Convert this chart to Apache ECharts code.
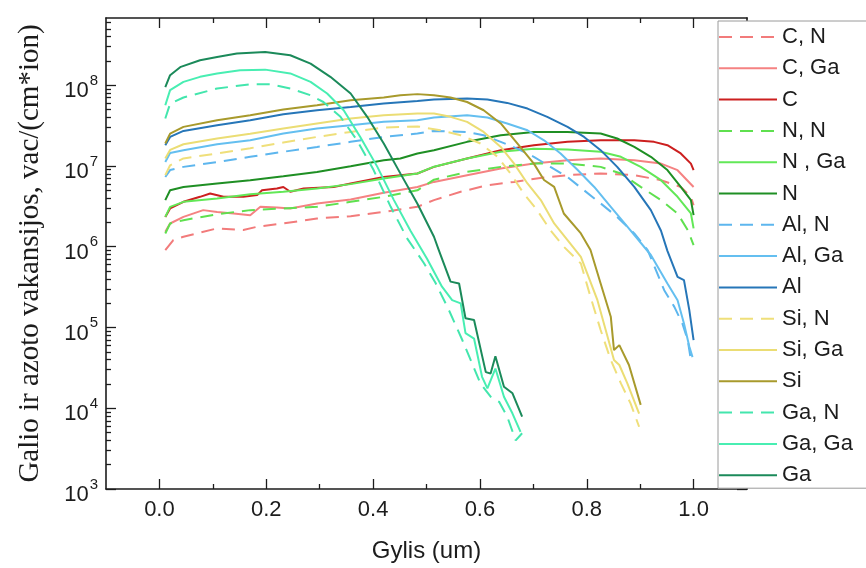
<!DOCTYPE html>
<html>
<head>
<meta charset="utf-8">
<script src="https://cdn.jsdelivr.net/npm/echarts@6/dist/echarts.min.js"></script>
<style>
  html, body { margin: 0; padding: 0; background: #fff; }
  #chart { width: 866px; height: 568px; }
</style>
</head>
<body>
<div id="chart"></div>
<script>
// Vacancy depth profiles: [depth (um), vacancies per cm*ion]
const cN = [[0.011,9.1e5],[0.026,1.21e6],[0.045,1.33e6],[0.108,1.69e6],[0.157,1.61e6],[0.183,1.77e6],[0.232,1.94e6],[0.295,2.24e6],[0.358,2.39e6],[0.42,2.7e6],[0.483,3.12e6],[0.514,3.78e6],[0.564,4.79e6],[0.614,5.78e6],[0.664,6.35e6],[0.72,7.2e6],[0.764,7.7e6],[0.826,8.07e6],[0.889,7.7e6],[0.939,6.67e6],[0.976,5.5e6],[0.995,4.15e6],[1.0,3.27e6]];
const cGa = [[0.011,1.53e6],[0.02,1.94e6],[0.045,2.34e6],[0.082,2.84e6],[0.108,2.7e6],[0.139,2.58e6],[0.17,2.46e6],[0.189,3.12e6],[0.22,3.06e6],[0.245,2.98e6],[0.295,3.44e6],[0.358,3.85e6],[0.42,4.65e6],[0.483,5.5e6],[0.514,6.35e6],[0.576,7.7e6],[0.639,9.3e6],[0.701,1.07e7],[0.764,1.18e7],[0.826,1.24e7],[0.889,1.18e7],[0.939,1.07e7],[0.97,8.87e6],[1.0,5.5e6]];
const cAll = [[0.011,2.34e6],[0.02,2.98e6],[0.045,3.6e6],[0.076,4.15e6],[0.095,4.56e6],[0.12,4.15e6],[0.157,4.15e6],[0.183,4.36e6],[0.192,5.0e6],[0.22,5.26e6],[0.232,5.5e6],[0.245,4.79e6],[0.27,5.26e6],[0.326,5.5e6],[0.358,6.07e6],[0.42,7.33e6],[0.483,8.07e6],[0.514,9.75e6],[0.576,1.24e7],[0.639,1.57e7],[0.701,1.81e7],[0.764,1.99e7],[0.826,2.08e7],[0.889,2.08e7],[0.926,1.99e7],[0.951,1.81e7],[0.976,1.43e7],[0.995,1.07e7],[1.0,8.87e6]];
const nN = [[0.011,1.46e6],[0.02,1.94e6],[0.045,2.13e6],[0.108,2.53e6],[0.17,2.84e6],[0.232,2.98e6],[0.295,3.12e6],[0.358,3.6e6],[0.42,4.15e6],[0.483,5.0e6],[0.514,6.76e6],[0.576,8.45e6],[0.639,9.75e6],[0.701,1.07e7],[0.764,1.07e7],[0.826,9.75e6],[0.864,8.07e6],[0.901,5.5e6],[0.939,3.78e6],[0.97,2.58e6],[0.989,1.61e6],[1.0,1.05e6]];
const nGa = [[0.011,2.34e6],[0.02,3.12e6],[0.045,3.6e6],[0.108,3.96e6],[0.17,4.48e6],[0.232,4.79e6],[0.295,5.26e6],[0.358,5.96e6],[0.42,7.0e6],[0.483,8.07e6],[0.514,9.8e6],[0.576,1.24e7],[0.639,1.5e7],[0.701,1.64e7],[0.764,1.6e7],[0.826,1.5e7],[0.864,1.3e7],[0.901,9.75e6],[0.939,6.67e6],[0.97,4.15e6],[0.995,2.58e6],[1.0,1.69e6]];
const nAll = [[0.011,3.78e6],[0.02,5.0e6],[0.045,5.5e6],[0.108,6.07e6],[0.17,6.67e6],[0.232,7.48e6],[0.295,8.45e6],[0.358,9.9e6],[0.42,1.18e7],[0.451,1.24e7],[0.483,1.43e7],[0.514,1.57e7],[0.576,1.99e7],[0.639,2.4e7],[0.701,2.64e7],[0.764,2.64e7],[0.826,2.52e7],[0.857,2.19e7],[0.889,1.72e7],[0.92,1.3e7],[0.951,8.9e6],[0.976,5.5e6],[0.995,3.78e6],[1.0,2.46e6]];
const alN = [[0.011,7.3e6],[0.02,8.9e6],[0.045,9.75e6],[0.108,1.12e7],[0.17,1.3e7],[0.232,1.5e7],[0.295,1.72e7],[0.358,1.99e7],[0.42,2.29e7],[0.483,2.52e7],[0.514,2.72e7],[0.576,2.64e7],[0.607,2.4e7],[0.639,1.99e7],[0.67,1.64e7],[0.701,1.3e7],[0.732,9.75e6],[0.764,7.3e6],[0.795,5.0e6],[0.826,3.44e6],[0.857,2.34e6],[0.889,1.46e6],[0.914,9.1e5],[0.945,2.9e5],[0.964,1.8e5],[0.979,1.12e5],[0.989,7e4],[0.995,3.95e4]];
const alGa = [[0.011,1.12e7],[0.02,1.45e7],[0.045,1.57e7],[0.108,1.86e7],[0.17,2.08e7],[0.232,2.52e7],[0.295,2.91e7],[0.358,3.2e7],[0.42,3.52e7],[0.483,3.69e7],[0.514,3.98e7],[0.576,4.26e7],[0.614,3.98e7],[0.651,3.36e7],[0.689,2.77e7],[0.72,2.08e7],[0.751,1.43e7],[0.783,8.9e6],[0.814,5.5e6],[0.845,3.12e6],[0.876,1.77e6],[0.92,7.9e5],[0.951,3.5e5],[0.97,2.18e5],[0.982,1.12e5],[0.992,5.8e4],[0.998,4.3e4]];
const alAll = [[0.011,1.81e7],[0.02,2.29e7],[0.045,2.72e7],[0.108,3.2e7],[0.17,3.69e7],[0.232,4.38e7],[0.295,4.9e7],[0.358,5.38e7],[0.42,5.93e7],[0.483,6.4e7],[0.514,6.65e7],[0.576,6.84e7],[0.614,6.65e7],[0.651,6.04e7],[0.689,5.14e7],[0.726,4.06e7],[0.764,3.05e7],[0.795,2.29e7],[0.826,1.57e7],[0.857,9.75e6],[0.889,5.5e6],[0.92,2.84e6],[0.939,1.58e6],[0.951,8.9e5],[0.97,4.24e5],[0.982,3.86e5],[0.992,1.64e5],[1.0,6.98e4]];
const siN = [[0.011,7.7e6],[0.02,1.02e7],[0.045,1.24e7],[0.108,1.43e7],[0.17,1.66e7],[0.232,1.95e7],[0.295,2.29e7],[0.358,2.64e7],[0.42,2.99e7],[0.483,3.09e7],[0.526,2.77e7],[0.564,2.4e7],[0.601,1.9e7],[0.633,1.3e7],[0.657,8.1e6],[0.682,4.57e6],[0.707,2.84e6],[0.732,1.6e6],[0.757,1.0e6],[0.789,6.2e5],[0.807,2.4e5],[0.826,9.3e4],[0.845,3.95e4],[0.864,2.03e4],[0.882,1.15e4],[0.898,5.9e3]];
const siGa = [[0.011,1.24e7],[0.02,1.58e7],[0.045,1.86e7],[0.108,2.19e7],[0.17,2.51e7],[0.232,2.91e7],[0.295,3.36e7],[0.358,3.87e7],[0.42,4.26e7],[0.483,4.47e7],[0.514,4.47e7],[0.545,4.06e7],[0.576,3.52e7],[0.607,2.64e7],[0.639,1.72e7],[0.664,1.07e7],[0.689,6.07e6],[0.714,3.78e6],[0.739,1.94e6],[0.764,1.21e6],[0.789,7.5e5],[0.82,2.18e5],[0.839,7.7e4],[0.851,3.95e4],[0.861,3.43e4],[0.876,2.03e4],[0.898,8.6e3]];
const siAll = [[0.011,1.9e7],[0.02,2.52e7],[0.045,3.05e7],[0.108,3.69e7],[0.17,4.26e7],[0.232,5.0e7],[0.295,5.65e7],[0.358,6.5e7],[0.42,7.05e7],[0.451,7.5e7],[0.483,7.76e7],[0.514,7.5e7],[0.545,7.05e7],[0.576,6.2e7],[0.607,4.9e7],[0.639,3.36e7],[0.67,1.9e7],[0.701,1.07e7],[0.72,6.7e6],[0.739,5.5e6],[0.757,2.58e6],[0.789,1.46e6],[0.807,9.1e5],[0.826,3.5e5],[0.845,1.36e5],[0.851,5.25e4],[0.861,6.05e4],[0.879,3.43e4],[0.901,1.1e4]];
const gaN = [[0.011,3.87e7],[0.02,5.9e7],[0.045,7.05e7],[0.108,9.1e7],[0.17,1.03e8],[0.208,1.03e8],[0.245,9.1e7],[0.283,7.5e7],[0.307,6.2e7],[0.339,4.06e7],[0.37,2.08e7],[0.401,8.9e6],[0.433,3.12e6],[0.464,1.26e6],[0.495,6.3e5],[0.517,3.55e5],[0.542,1.64e5],[0.567,7e4],[0.601,2.03e4],[0.62,1.39e4],[0.636,1.2e4],[0.651,7.9e3],[0.667,4e3],[0.679,4.9e3]];
const gaGa = [[0.011,5.65e7],[0.02,8.7e7],[0.045,1.1e8],[0.076,1.27e8],[0.108,1.4e8],[0.151,1.53e8],[0.198,1.56e8],[0.245,1.4e8],[0.283,1.1e8],[0.314,7.9e7],[0.345,4.9e7],[0.376,2.29e7],[0.408,9.75e6],[0.439,3.78e6],[0.47,1.58e6],[0.501,7.1e5],[0.529,3.2e5],[0.548,2.18e5],[0.564,1.99e5],[0.573,8.5e4],[0.589,7.3e4],[0.604,2.45e4],[0.614,1.76e4],[0.629,3.1e4],[0.645,1.39e4],[0.661,8.6e3],[0.676,5.1e3]];
const gaAll = [[0.011,9.5e7],[0.02,1.33e8],[0.04,1.69e8],[0.076,2.04e8],[0.108,2.24e8],[0.145,2.47e8],[0.198,2.58e8],[0.245,2.35e8],[0.283,1.85e8],[0.32,1.27e8],[0.358,7.9e7],[0.389,4.06e7],[0.42,1.9e7],[0.451,8.1e6],[0.483,3.4e6],[0.514,1.33e6],[0.523,9.1e5],[0.545,3.7e5],[0.561,3.5e5],[0.573,1.3e5],[0.589,1.24e5],[0.611,2.8e4],[0.62,2.7e4],[0.629,4.4e4],[0.645,1.85e4],[0.661,1.53e4],[0.679,7.9e3]];

const seriesNames = ['C, N', 'C, Ga', 'C', 'N, N', 'N , Ga', 'N', 'Al, N', 'Al, Ga', 'Al', 'Si, N', 'Si, Ga', 'Si', 'Ga, N', 'Ga, Ga', 'Ga'];
const seriesValues = [cN, cGa, cAll, nN, nGa, nAll, alN, alGa, alAll, siN, siGa, siAll, gaN, gaGa, gaAll];

// Axis ticks and labels
const depthTicks = [0, 0.2, 0.4, 0.6, 0.8, 1.0];
const depthMinorTicks = [0.1, 0.3, 0.5, 0.7, 0.9];
const vacancyTicks = [1e3, 1e4, 1e5, 1e6, 1e7, 1e8];
const vacancyMinorTicks = [];
vacancyTicks.forEach(function (p) {
  for (let m = 2; m <= 9; m++) {
    if (p * m <= 6.8e8) vacancyMinorTicks.push(p * m);
  }
});

// Line styling
const lineColors = ['#f27b7b', '#f58282', '#cc1f1f', '#5fe04f', '#62e857', '#1f8f24',
  '#5db6ee', '#64bff0', '#2676b8', '#efdf7a', '#ebdd74', '#a89a2c', '#43e6ad', '#48eeb2', '#1b8a5a'];
const lineDashed = [true, false, false, true, false, false, true, false, false, true, false, false, true, false, false];

const AXIS = '#1c1c1c';
const SANS = '"Liberation Sans", Arial, sans-serif';
const SERIF = '"Liberation Serif", "Times New Roman", serif';
const X_MIN = -0.1, X_MAX = 1.1, Y_MIN = 1e3, Y_MAX = 6.8e8;

const gridBox = { left: 106, right: 119, top: 18, bottom: 79, outerBoundsMode: 'none', containLabel: false };

function xAxisDef(grid, pos, ticks, len, showLine, labels) {
  return {
    gridIndex: grid, type: 'value', position: pos, min: X_MIN, max: X_MAX,
    axisLine: { show: showLine, onZero: false, lineStyle: { color: AXIS, width: 1.6 } },
    axisTick: { show: true, inside: true, length: len, customValues: ticks, lineStyle: { color: AXIS, width: 1.3 } },
    axisLabel: labels ? {
      show: true, customValues: depthTicks, margin: 10,
      formatter: function (v) { return v.toFixed(1); },
      fontSize: 22, fontFamily: SANS, color: AXIS
    } : { show: false },
    splitLine: { show: false }
  };
}

function yAxisDef(grid, pos, ticks, len, showLine, labels) {
  return {
    gridIndex: grid, type: 'log', logBase: 10, position: pos, min: Y_MIN, max: Y_MAX,
    axisLine: { show: showLine, onZero: false, lineStyle: { color: AXIS, width: 1.6 } },
    axisTick: { show: true, inside: true, length: len, customValues: ticks, lineStyle: { color: AXIS, width: 1.3 } },
    axisLabel: labels ? {
      show: true, customValues: vacancyTicks, margin: 8, padding: [12, 0, 0, 0],
      formatter: function (v) { return '{b|10}{s|' + Math.round(Math.log10(v)) + '}'; },
      rich: {
        b: { fontSize: 22, fontFamily: SANS, color: AXIS, lineHeight: 36 },
        s: { fontSize: 15, fontFamily: SANS, color: AXIS, lineHeight: 14, verticalAlign: 'top', padding: [0, 0, 0, 1] }
      }
    } : { show: false },
    splitLine: { show: false }
  };
}

const xAxes = [
  xAxisDef(0, 'bottom', depthTicks, 10, true, true),
  xAxisDef(0, 'top', depthTicks, 10, true, false),
  xAxisDef(1, 'bottom', depthMinorTicks, 5, false, false),
  xAxisDef(1, 'top', depthMinorTicks, 5, false, false)
];
Object.assign(xAxes[0], {
  name: 'Gylis (um)', nameLocation: 'middle', nameGap: 50,
  nameTextStyle: { fontSize: 24, fontFamily: SANS, color: AXIS }
});

const yAxes = [
  yAxisDef(0, 'left', vacancyTicks, 10, true, true),
  yAxisDef(0, 'right', vacancyTicks, 10, true, false),
  yAxisDef(1, 'left', vacancyMinorTicks, 5, false, false),
  yAxisDef(1, 'right', vacancyMinorTicks, 5, false, false)
];
Object.assign(yAxes[0], {
  name: 'Galio ir azoto vakansijos, vac/(cm*ion)', nameLocation: 'middle', nameGap: 61,
  nameTextStyle: { fontSize: 29, fontFamily: SERIF, color: AXIS }
});

const series = seriesNames.map(function (name, i) {
  return {
    name: name, type: 'line', xAxisIndex: 0, yAxisIndex: 0,
    data: seriesValues[i], showSymbol: false, symbol: 'none',
    lineStyle: { color: lineColors[i], width: 2, type: lineDashed[i] ? [13, 8] : 'solid' },
    itemStyle: { color: lineColors[i] },
    emphasis: { disabled: true }
  };
});

const chart = echarts.init(document.getElementById('chart'), null, { renderer: 'canvas' });
chart.setOption({
  animation: false,
  backgroundColor: '#ffffff',
  grid: [Object.assign({}, gridBox), Object.assign({}, gridBox)],
  xAxis: xAxes,
  yAxis: yAxes,
  legend: {
    orient: 'vertical', left: 718, top: 21,
    itemWidth: 58, itemHeight: 14, itemGap: 9.3,
    padding: [5, 20, 2, 0],
    backgroundColor: '#ffffff', borderColor: '#9a9a9a', borderWidth: 1,
    itemStyle: { opacity: 0 },
    lineStyle: { width: 2 },
    textStyle: { fontSize: 22, fontFamily: SANS, color: AXIS, lineHeight: 22 },
    selectedMode: false,
    data: seriesNames
  },
  series: series
});
</script>
</body>
</html>
